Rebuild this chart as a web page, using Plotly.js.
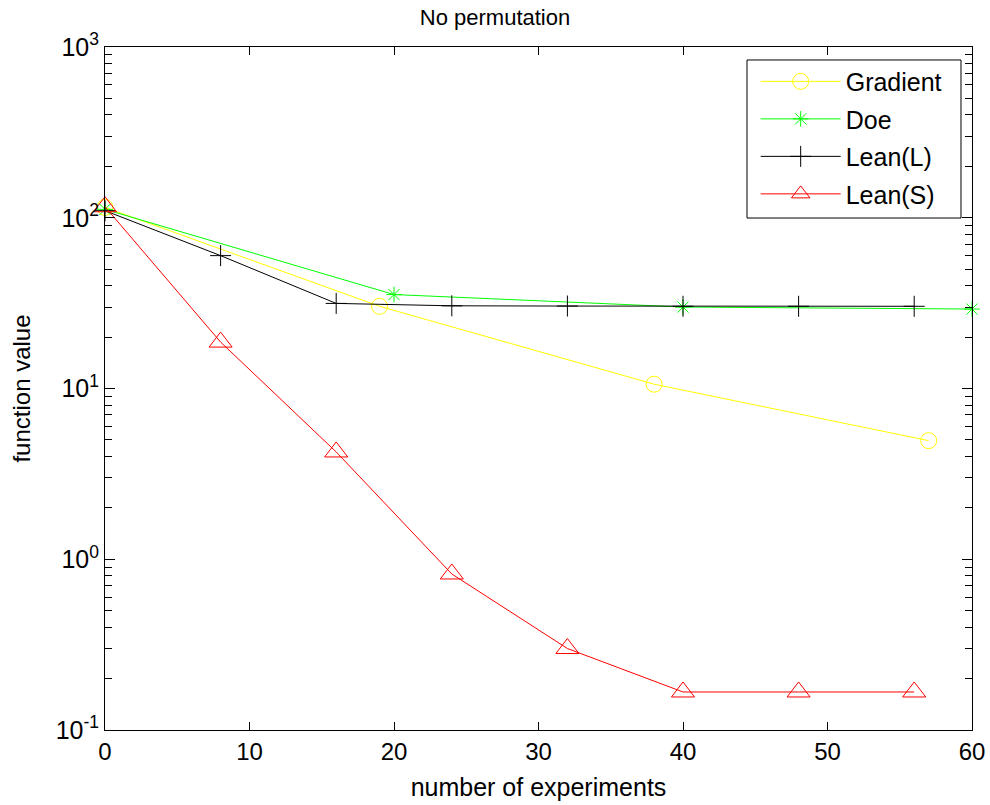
<!DOCTYPE html>
<html>
<head>
<meta charset="utf-8">
<script src="https://cdn.plot.ly/plotly-3.0.1.min.js"></script>
<style>html,body{margin:0;padding:0;background:#fff;}#chart{width:990px;height:805px;}</style>
</head>
<body>
<div id="chart"></div>
<script>
var gradientX = [0, 19, 38, 57];
var gradientY = [115, 30.3, 10.6, 4.95];
var doeX = [0, 20, 40, 60];
var doeY = [112, 35.5, 30, 29.2];
var leanLX = [0, 8, 16, 24, 32, 40, 48, 56];
var leanLY = [110, 60, 31.5, 30.5, 30.4, 30.3, 30.3, 30.3];
var leanSX = [0, 8, 16, 24, 32, 40, 48, 56];
var leanSY = [116, 18.7, 4.25, 0.82, 0.30, 0.167, 0.167, 0.167];
var xTicks = [0, 10, 20, 30, 40, 50, 60];
var yTicks = [0.1, 1, 10, 100, 1000];
var yTickText = ['10<sup>-1</sup>', '10<sup>0</sup>', '10<sup>1</sup>', '10<sup>2</sup>', '10<sup>3</sup>'];
var yMinorTicks = [0.2,0.3,0.4,0.5,0.6,0.7,0.8,0.9,2,3,4,5,6,7,8,9,20,30,40,50,60,70,80,90,200,300,400,500,600,700,800,900];

var traces = [
  {x: gradientX, y: gradientY, name: 'Gradient', legendgroup: 'g1', mode: 'lines+markers', cliponaxis: false,
   line: {color: '#ffff00', width: 1}, marker: {symbol: 'circle-open', size: 16, color: '#ffff00', line: {width: 1}}},
  {x: doeX, y: doeY, name: 'Doe', legendgroup: 'g2', mode: 'lines+markers', cliponaxis: false,
   line: {color: '#00ff00', width: 1}, marker: {symbol: 'asterisk-open', size: 13, color: '#00ff00', line: {width: 1, color: '#00ff00'}}},
  {x: leanLX, y: leanLY, name: 'Lean(L)', legendgroup: 'g3', mode: 'lines+markers', cliponaxis: false,
   line: {color: '#000000', width: 1}, marker: {symbol: 'cross-thin-open', size: 15, color: '#000000', line: {width: 1, color: '#000000'}}},
  {x: leanSX, y: leanSY, name: 'Lean(S)', legendgroup: 'g4', mode: 'lines+markers', cliponaxis: false,
   line: {color: '#ff0000', width: 1}, marker: {symbol: 'triangle-up-open', size: 20, color: '#ff0000', line: {width: 1}}}
];

var layout = {
  width: 990, height: 805,
  margin: {l: 105, r: 18, t: 47, b: 75, pad: 0},
  paper_bgcolor: '#ffffff', plot_bgcolor: '#ffffff',
  font: {family: 'Arial, "Liberation Sans", sans-serif', size: 24, color: '#000'},
  title: {text: 'No permutation', font: {size: 22}, x: 0.5, xanchor: 'center', y: 0.979, yanchor: 'middle'},
  showlegend: true,
  legend: {x: 0.7505, xanchor: 'left', y: 0.983, yanchor: 'top', bgcolor: 'rgba(0,0,0,0)', borderwidth: 0,
           font: {size: 25}, itemwidth: 80, traceorder: 'grouped', tracegroupgap: 2},
  shapes: [{type: 'rect', xref: 'paper', yref: 'paper', x0: 0.7405, x1: 0.9873, y0: 0.7496, y1: 0.981,
            line: {color: '#000', width: 1}, fillcolor: '#ffffff', layer: 'below'}],
  xaxis: {range: [0, 60], tickvals: xTicks, ticks: 'inside', ticklen: 8, tickcolor: '#000', showline: true, linecolor: '#000', linewidth: 1,
          mirror: 'allticks', showgrid: false, zeroline: false, tickfont: {size: 24},
          title: {text: 'number of experiments', font: {size: 25}, standoff: 14}},
  yaxis: {type: 'log', range: [-1, 3], tickvals: yTicks, ticktext: yTickText, ticks: 'inside', ticklen: 10, tickcolor: '#000',
          showline: true, linecolor: '#000', linewidth: 1, mirror: 'allticks', showgrid: false, zeroline: false, tickfont: {size: 25},
          minor: {ticks: 'inside', ticklen: 7, tickcolor: '#000', showgrid: false, tickvals: yMinorTicks},
          title: {text: 'function value', font: {size: 24}, standoff: 18}}
};

Plotly.newPlot('chart', traces, layout, {displayModeBar: false, staticPlot: true});
</script>
</body>
</html>
